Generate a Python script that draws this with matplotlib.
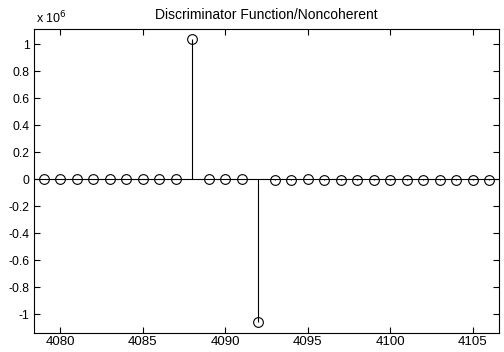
import matplotlib
matplotlib.use("Agg")
import matplotlib.pyplot as plt

# Sample index (bin) and discriminator output
bins = list(range(4079, 4107))
values = [
    2000, 1500, 1000, 800, 1200, 900, 1500, 1300, 1000,
    1.04e6,
    -1500, -1000, -1200,
    -1.06e6,
    -2000, -2500, -1800, -2200, -2000, -2600, -2400, -2800,
    -2500, -3000, -2700, -3200, -3000, -3500,
]
x_ticks = [4080, 4085, 4090, 4095, 4100, 4105]
y_ticks = [-1, -0.8, -0.6, -0.4, -0.2, 0, 0.2, 0.4, 0.6, 0.8, 1]
y_tick_labels = ["-1", "-0.8", "-0.6", "-0.4", "-0.2", "0", "0.2", "0.4", "0.6", "0.8", "1"]
scale = 1e6

plt.rcParams["font.family"] = ["Liberation Sans", "DejaVu Sans"]

fig = plt.figure(figsize=(5.04, 3.52), dpi=100)
ax = fig.add_axes([0.067, 0.054, 0.923, 0.864])

scaled = [v / scale for v in values]
ax.axhline(0, color="black", linewidth=0.8, zorder=1)
ax.vlines(bins, 0, scaled, color="black", linewidth=0.8, zorder=2)
ax.plot(bins, scaled, linestyle="none", marker="o", markersize=7,
        markerfacecolor="none", markeredgecolor="black", markeredgewidth=0.8, zorder=3)

ax.set_xlim(4078.4, 4106.6)
ax.set_ylim(-1.14, 1.115)
ax.set_xticks(x_ticks)
ax.set_yticks(y_ticks)
ax.set_yticklabels(y_tick_labels)
ax.tick_params(direction="in", top=True, right=True, length=4, width=0.8, pad=3)
ax.tick_params(axis="x", labelsize=9.5, pad=2)
ax.tick_params(axis="y", labelsize=8.8)
for s in ax.spines.values():
    s.set_linewidth(0.8)

ax.set_title("Discriminator Function/Noncoherent", fontsize=10, pad=7)
ax.text(0.005, 1.01, r"x 10$^6$", transform=ax.transAxes, fontsize=9,
        ha="left", va="bottom")

fig.savefig("out.png", dpi=100)
